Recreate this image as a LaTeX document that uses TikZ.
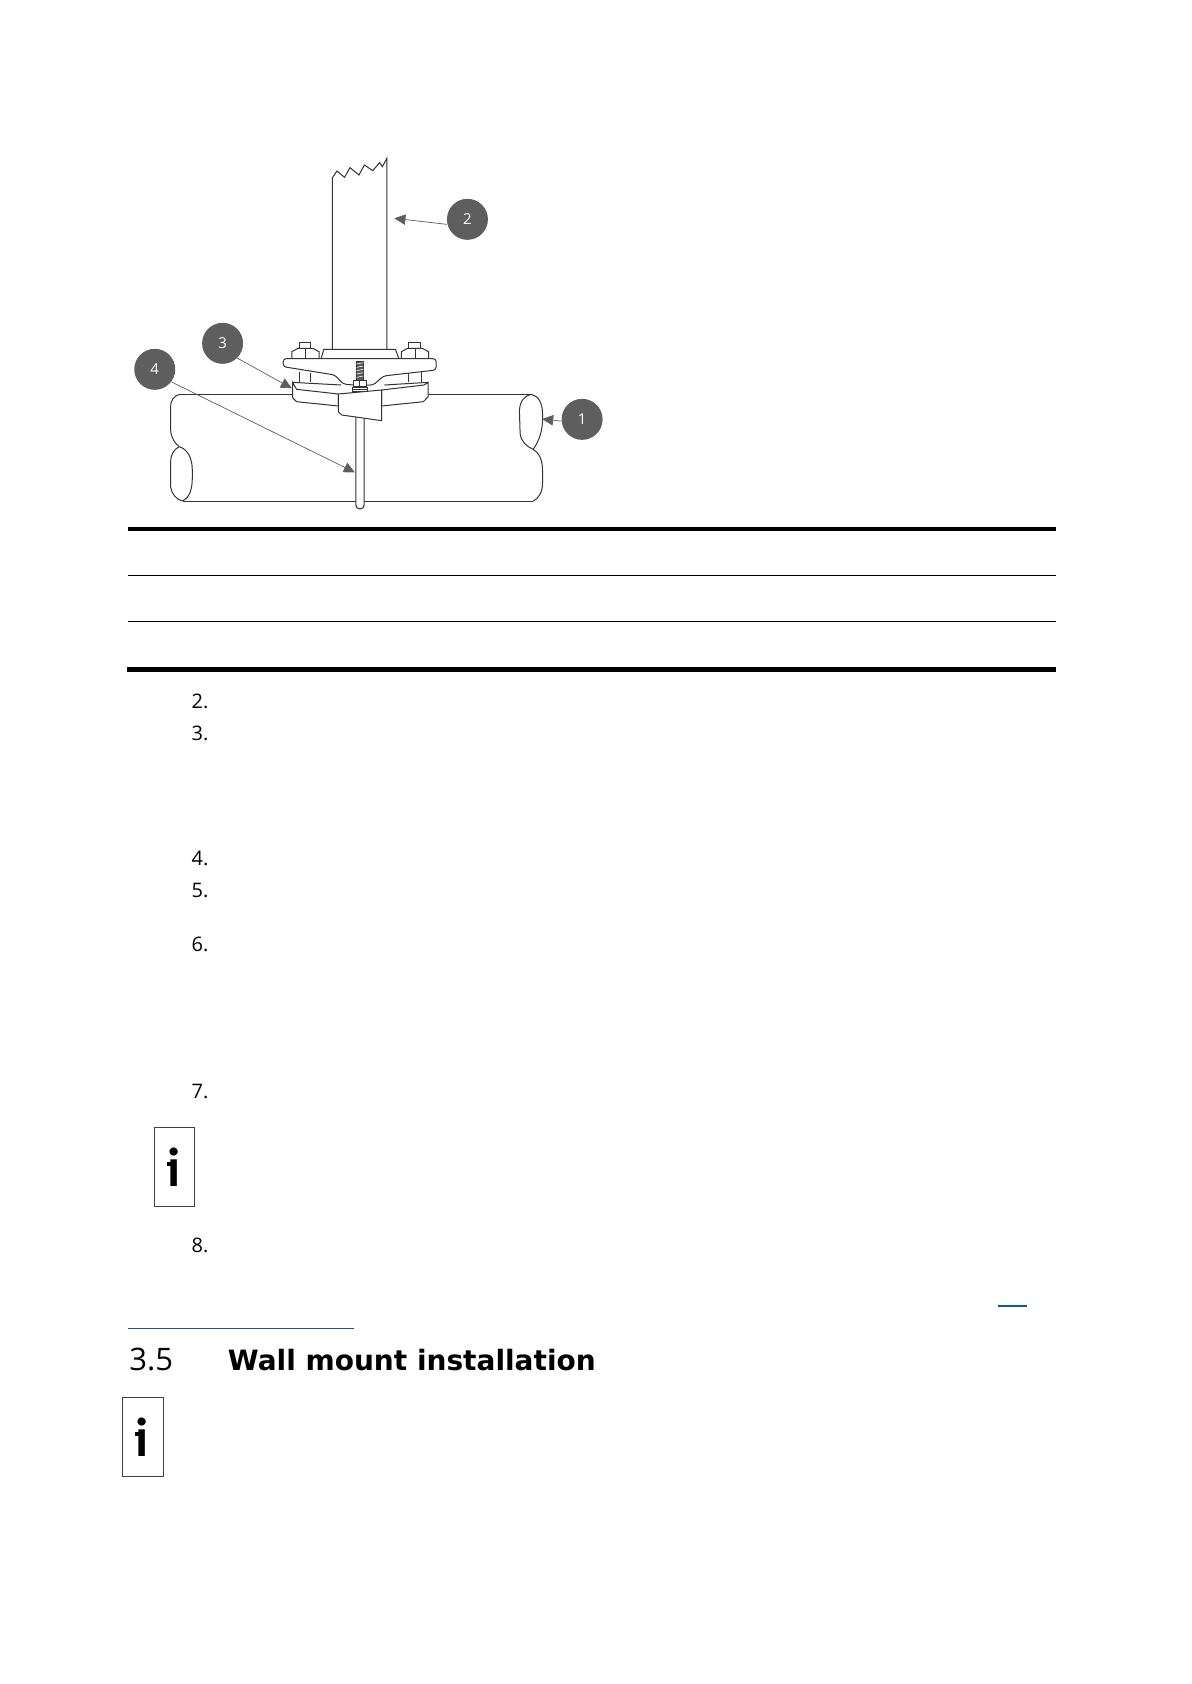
\documentclass[tikz,border=0pt]{standalone}
\usepackage{fontspec}
\setmainfont{Open Sans}
\newfontfamily\headfont{DejaVu Sans}
\newfontfamily\iconfont{Lato}
\usetikzlibrary{arrows.meta}
\definecolor{badgegray}{HTML}{5E5E5E}
\definecolor{linkblue}{HTML}{0F5A96}
\tikzset{
	badge/.style={circle,fill=badgegray,text=white,minimum size=20.5pt,inner sep=0pt,font=\fontsize{7.5}{8}\selectfont},
	callout/.style={draw=badgegray,line width=0.35pt,-{Triangle[length=5.5pt,width=5.2pt]}},
	part/.style={draw=black!80,line width=0.5pt,fill=white},
	edge/.style={draw=black!80,line width=0.5pt},
	thinrule/.style={line width=0.6pt},
	thickrule/.style={line width=2.2pt},
	heavyrule/.style={line width=2.8pt},
	linkrule/.style={draw=linkblue,line width=0.6pt},
	stepnum/.style={inner sep=0pt,font=\fontsize{10}{12}\selectfont},
	infobox/.style={draw=black!75,line width=0.5pt,fill=white,minimum width=20.3pt,minimum height=39.3pt,inner sep=0pt},
	infomark/.style={inner sep=0pt,font=\iconfont\bfseries\fontsize{26}{26}\selectfont},
}
\begin{document}
\begin{tikzpicture}[x=0.5pt,y=-0.5pt]
	\useasboundingbox (0,0) rectangle (1191,1684);

	% pipe, post and clamp
	\begin{scope}[shift={(100,130)},x=0.17218pt,y=-0.16667pt]
		\draw[edge] (232,793) -- (1252,793);
		\draw[edge] (240,1113) -- (1258,1113);
		\draw[edge] (232,793) .. controls (214,797) and (205,812) .. (205,830) -- (205,900) .. controls (207,925) and (218,940) .. (230,950);
		\draw[edge] (230,950) .. controls (214,958) and (205,975) .. (205,995) -- (205,1070) .. controls (207,1090) and (222,1110) .. (240,1113);
		\draw[edge] (230,950) .. controls (255,958) and (268,985) .. (268,1020) -- (268,1045) .. controls (268,1080) and (258,1105) .. (240,1113);
		\draw[edge] (1252,793) .. controls (1232,797) and (1218,815) .. (1218,845) -- (1220,910) .. controls (1222,935) and (1240,950) .. (1258,958);
		\draw[edge] (1252,793) .. controls (1272,797) and (1285,818) .. (1285,850) -- (1285,875) .. controls (1283,915) and (1270,940) .. (1258,958);
		\draw[edge] (1258,958) .. controls (1275,968) and (1285,990) .. (1285,1020) -- (1285,1060) .. controls (1285,1085) and (1275,1105) .. (1258,1113);

		% rod
		\draw[part,rounded corners=2pt] (743,860) -- (743,1137) -- (767,1137) -- (767,860);

		% post
		\draw[edge] (675,658) -- (675,143) -- (688,123) -- (710,142) -- (726,113) -- (752,135) -- (768,105) -- (792,122) -- (812,98) -- (820,110) -- (833,85) -- (833,658);
		\draw[part] (642,686) -- (650,658) -- (858,658) -- (868,686);

		% bolts
		\draw[part] (580,655) -- (580,637) -- (612,637) -- (612,655);
		\draw[part] (557,686) -- (557,665) -- (575,655) -- (618,655) -- (636,665) -- (636,686);
		\draw[edge] (597,658) -- (597,686);
		\draw[part] (897,655) -- (897,637) -- (932,637) -- (932,655);
		\draw[part] (875,686) -- (875,665) -- (893,655) -- (936,655) -- (954,665) -- (954,686);
		\draw[edge] (915,658) -- (915,686);
		\draw[edge] (578,725) -- (578,757) (612,730) -- (612,757);
		\draw[edge] (895,730) -- (895,757) (933,725) -- (933,757);

		% flange
		\draw[part,rounded corners=1.5pt] (532,686) -- (976,686) -- (976,720) -- (823,738) -- (794,765) -- (734,765) -- (706,762) -- (682,735) -- (532,710) -- cycle;

		% stud
		\draw[edge,fill=black!65] (745,693) rectangle (765,750);
		\draw[white,line width=0.3pt] (745,702) -- (765,698) (745,712) -- (765,708) (745,722) -- (765,718) (745,732) -- (765,728) (745,742) -- (765,738);
		\draw[part] (736,750) rectangle (774,770);
		\draw[part] (734,772) rectangle (776,778);
		\draw[part] (734,779) rectangle (776,785);
		\draw[edge] (755,750) -- (755,770);

		% clamp
		\draw[part] (559,757) -- (559,803) -- (571,815) -- (692,828) -- (692,792) -- (571,778) -- cycle;
		\draw[edge] (559,757) -- (700,765);
		\draw[part] (953,757) -- (953,800) -- (939,815) -- (818,828) -- (818,780) -- (941,765) -- cycle;
		\draw[edge] (953,757) -- (826,765);
		\draw[part] (692,792) -- (692,845) -- (702,855) -- (818,872) -- (818,780);
		\draw[edge] (692,792) -- (818,780);

		% callouts
		\node[badge] (num1) at (1400,868) {1};
		\node[badge] (num2) at (1067,268) {2};
		\node[badge] (num3) at (356,640) {3};
		\node[badge] (num4) at (159,718) {4};
		\coordinate (pipeend) at (1284,867);
		\coordinate (postside) at (855,265);
		\coordinate (clampside) at (557,775);
		\coordinate (rodside) at (740,1027);
		\draw[callout] (num1.185) -- (pipeend);
		\draw[callout] (num2.194) -- (postside);
		\draw[callout] (num3.-45) -- (clampside);
		\draw[callout] (num4.-37) -- (rodside);
	\end{scope}

	% table rules
	\draw[thickrule] (128,529) -- (1056,529);
	\draw[thinrule] (128,575.5) -- (1056,575.5);
	\draw[thinrule] (128,621.5) -- (1056,621.5);
	\draw[heavyrule] (127,669.5) -- (1056,669.5);

	% step numbers
	\node[stepnum] (step2) at (200,701) {2.};
	\node[stepnum] (step3) at (200,733) {3.};
	\node[stepnum] (step4) at (200,858) {4.};
	\node[stepnum] (step5) at (200,890.5) {5.};
	\node[stepnum] (step6) at (200,944) {6.};
	\node[stepnum] (step7) at (200,1091.5) {7.};
	\node[stepnum] (step8) at (200,1245) {8.};

	% info boxes
	\node[infobox] (infoa) at (174.5,1167) {};
	\node[infomark] (marka) at (174,1167) {i};
	\fill (166.5,1161.5) rectangle (171,1165.5);
	\node[infobox] (infob) at (143,1437) {};
	\node[infomark] (markb) at (142.5,1437) {i};
	\fill (135,1431.5) rectangle (139.5,1435.5);

	% link rules
	\draw[linkrule] (997.5,1306) -- (1026.5,1306);
	\draw[linkrule] (128,1328.5) -- (354,1328.5);

	% heading
	\node[anchor=base west,inner sep=0pt,font=\fontsize{15.5}{18}\selectfont] (secnum) at (129,1370) {3.5};
	\node[anchor=base west,inner sep=0pt,font=\headfont\bfseries\fontsize{14}{18}\selectfont] (sectitle) at (227.5,1370) {Wall mount installation};
\end{tikzpicture}
\end{document}
